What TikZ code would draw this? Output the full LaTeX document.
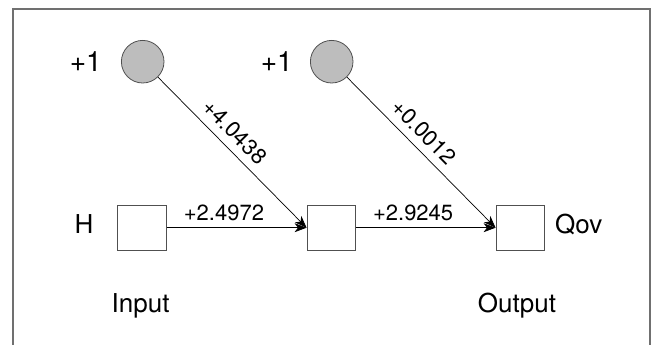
\documentclass[tikz,border=0pt]{standalone}
\usepackage{fontspec}
\setmainfont{TeX Gyre Heros}
\usetikzlibrary{arrows.meta}
\definecolor{framegray}{HTML}{707070}
\definecolor{nodefill}{HTML}{BDBDBD}
\definecolor{nodeline}{HTML}{505050}
\tikzset{
  bias/.style={circle, draw=nodeline, fill=nodefill, line width=0.8pt, minimum size=42.6pt, inner sep=0pt},
  unitbox/.style={rectangle, draw=nodeline, line width=1pt, minimum width=48.3pt, minimum height=44.7pt, inner sep=0pt},
  conn/.style={draw=black, line width=0.7pt, -{Stealth[length=12pt,width=9pt,inset=3.5pt]}},
  bigtxt/.style={inner sep=0pt, font=\fontsize{28}{30}\selectfont},
  midtxt/.style={inner sep=0pt, font=\fontsize{26}{28}\selectfont},
  numtxt/.style={inner sep=0pt, font=\fontsize{22}{24}\selectfont}
}
\begin{document}
\begin{tikzpicture}[x=1pt,y=1pt]
\useasboundingbox (0,0) rectangle (651,-345);
\draw[framegray, line width=1.3pt] (13,-345) -- (13,-9) -- (650,-9) -- (650,-345);
\node[bias] (c1) at (142.7,-61.7) {};
\node[bias] (c2) at (331.7,-61.7) {};
\node[unitbox] (b1) at (141.9,-227.7) {};
\node[unitbox] (b2) at (331.2,-227.7) {};
\node[unitbox] (b3) at (520.2,-227.7) {};
\node[bigtxt, anchor=east] (p1) at (102,-62) {+1};
\node[bigtxt, anchor=east] (p2) at (293,-62) {+1};
\node[midtxt] (h) at (84,-224) {H};
\node[midtxt, anchor=base west] (q) at (555,-233) {Qov};
\node[midtxt, anchor=base] (in) at (140.5,-312.5) {Input};
\node[midtxt, anchor=base] (out) at (517,-312.5) {Output};
\draw[conn] (b1) -- node[numtxt, pos=0.41, above=7pt] {+2.4972} (b2);
\draw[conn] (b2) -- node[numtxt, pos=0.41, above=7pt] {+2.9245} (b3);
\draw[conn] (c1) -- node[numtxt, pos=0.44, sloped, above=8pt] {+4.0438} (b2.west);
\draw[conn] (c2) -- node[numtxt, pos=0.44, sloped, above=8pt] {+0.0012} (b3.west);
\end{tikzpicture}
\end{document}
